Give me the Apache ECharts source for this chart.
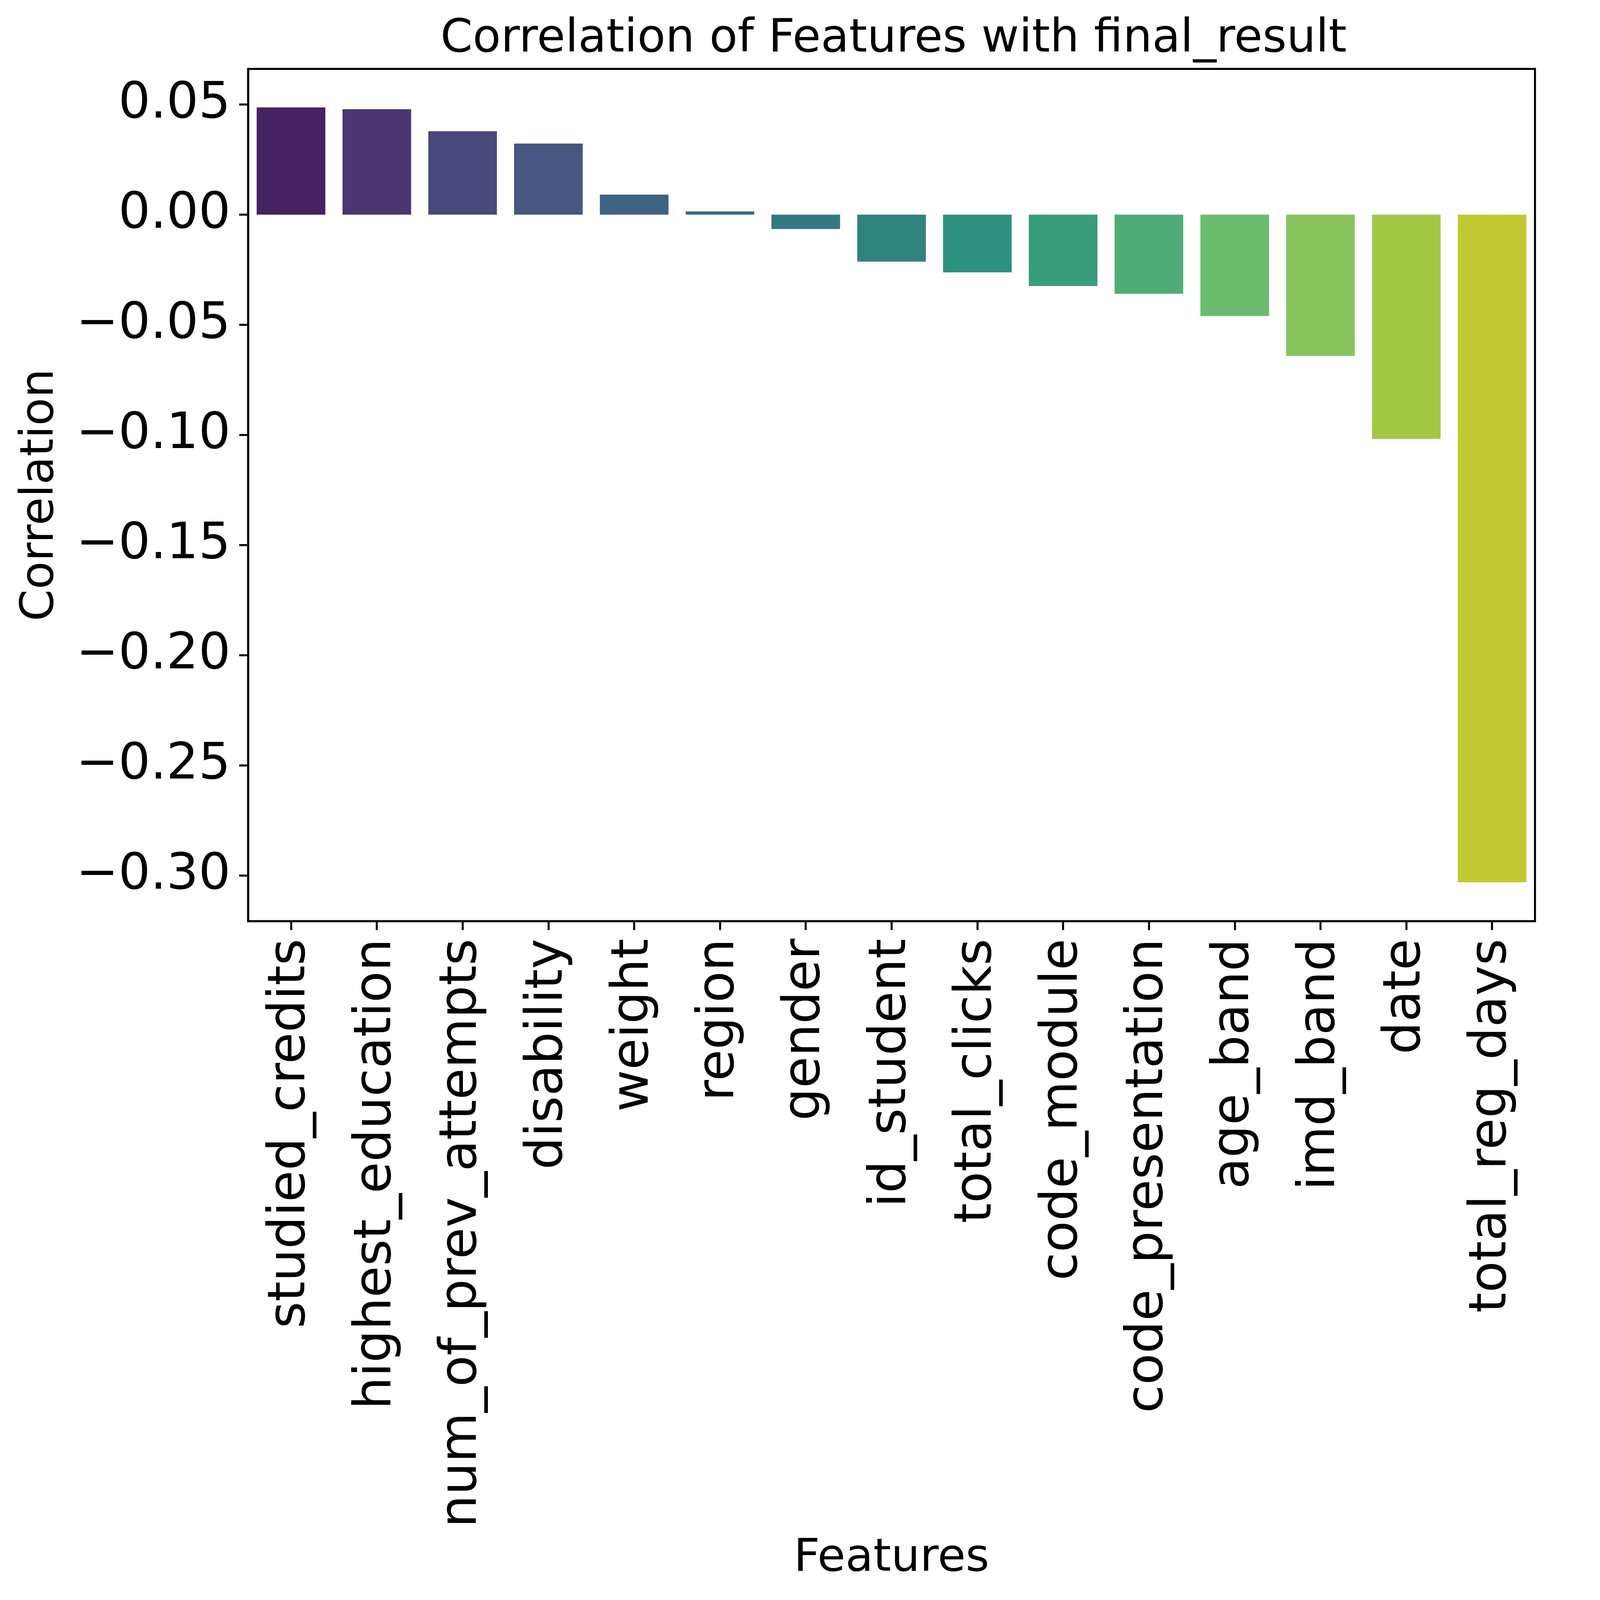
<!DOCTYPE html>
<html>
<head>
<meta charset="utf-8">
<script src="https://cdn.jsdelivr.net/npm/echarts@6/dist/echarts.min.js"></script>
<style>
html,body{margin:0;padding:0;background:#fff;overflow:hidden;}
#chart{position:absolute;left:0;top:0;}
</style>
</head>
<body>
<div id="chart"></div>
<script>
// ---- data ----
const categories = ['studied_credits','highest_education','num_of_prev_attempts','disability','weight','region','gender','id_student','total_clicks','code_module','code_presentation','age_band','imd_band','date','total_reg_days'];
const correlations = [0.0487, 0.0479, 0.0379, 0.0323, 0.0091, 0.0015, -0.0065, -0.0213, -0.0262, -0.0324, -0.0359, -0.0460, -0.0641, -0.1018, -0.3031];
const yTicks = [-0.30, -0.25, -0.20, -0.15, -0.10, -0.05, 0.00, 0.05];
const titleText = 'Correlation of Features with final_result';
const xName = 'Features';
const yName = 'Correlation';

// ---- style helpers ----
const viridis15 = ['#48186a','#472d7b','#424086','#3b528b','#33638d','#2c728e','#26828e','#21918c','#1fa088','#28ae80','#3fbc73','#5ec962','#84d44b','#addc30','#d8e219'];
function desaturate(hex, prop){
  let r=parseInt(hex.slice(1,3),16)/255, g=parseInt(hex.slice(3,5),16)/255, b=parseInt(hex.slice(5,7),16)/255;
  const mx=Math.max(r,g,b), mn=Math.min(r,g,b);
  let h=0,s=0; const l=(mx+mn)/2;
  if(mx!==mn){
    const d=mx-mn;
    s = l>0.5 ? d/(2-mx-mn) : d/(mx+mn);
    if(mx===r) h=((g-b)/d+(g<b?6:0))/6;
    else if(mx===g) h=((b-r)/d+2)/6;
    else h=((r-g)/d+4)/6;
  }
  s*=prop;
  function hue2rgb(p,q,t){ if(t<0)t+=1; if(t>1)t-=1; if(t<1/6)return p+(q-p)*6*t; if(t<1/2)return q; if(t<2/3)return p+(q-p)*(2/3-t)*6; return p; }
  let R,G,B;
  if(s===0){R=G=B=l;} else {
    const q=l<0.5?l*(1+s):l+s-l*s, p=2*l-q;
    R=hue2rgb(p,q,h+1/3); G=hue2rgb(p,q,h); B=hue2rgb(p,q,h-1/3);
  }
  const toHex=v=>Math.round(v*255).toString(16).padStart(2,'0');
  return '#'+toHex(R)+toHex(G)+toHex(B);
}
const barColors = viridis15.map(c=>desaturate(c,0.75));

// scale reference pixels to the actual CSS viewport
const REF_W = 5052, REF_H = 5204;
const S = Math.min(window.innerWidth / REF_W, window.innerHeight / REF_H);
const px = v => v * S;

const el = document.getElementById('chart');
el.style.width = px(REF_W) + 'px';
el.style.height = px(REF_H) + 'px';

const FONT = 'DejaVu Sans';
const LW = px(6.6);
const PL = 807, PR = 4993, PT = 224, PB = 2996;

const chart = echarts.init(el, null, {renderer:'canvas'});
chart.setOption({
  backgroundColor:'#ffffff',
  animation:false,
  title:{
    text: titleText,
    left: px((PL + PR)/2),
    textAlign:'center',
    top: px(48),
    textStyle:{fontFamily:FONT, fontSize:px(150), fontWeight:'normal', color:'#000'}
  },
  grid:{left:px(PL), right:px(REF_W-PR), top:px(PT), bottom:px(REF_H-PB), show:true, borderColor:'#000', borderWidth:LW, backgroundColor:'transparent'},
  xAxis:{
    type:'category',
    data: categories,
    boundaryGap:true,
    name: xName,
    nameLocation:'middle',
    nameGap: px(2000),
    nameTextStyle:{fontFamily:FONT, fontSize:px(148), color:'#000'},
    axisLine:{show:true, onZero:false, lineStyle:{color:'#000', width:LW}},
    axisTick:{show:true, alignWithLabel:true, length:px(29), lineStyle:{color:'#000', width:LW}},
    axisLabel:{show:true, rotate:90, margin:px(57), interval:0, fontFamily:FONT, fontSize:px(167), color:'#000'},
    splitLine:{show:false}
  },
  yAxis:{
    type:'value',
    min:-0.3207,
    max:0.0662,
    name: yName,
    nameLocation:'middle',
    nameRotate:90,
    nameGap: px(600),
    nameTextStyle:{fontFamily:FONT, fontSize:px(149), color:'#000'},
    axisLine:{show:true, lineStyle:{color:'#000', width:LW}},
    axisTick:{show:true, length:px(29), customValues:yTicks, lineStyle:{color:'#000', width:LW}},
    axisLabel:{show:true, margin:px(57), customValues:yTicks, fontFamily:FONT, fontSize:px(164), color:'#000',
      formatter: v => (v < -1e-9 ? '\u2212' : '') + Math.abs(v).toFixed(2)},
    splitLine:{show:false}
  },
  series:[{
    type:'bar',
    data: correlations,
    barCategoryGap:'20%',
    itemStyle:{color: p => barColors[p.dataIndex]}
  }]
});
</script>
</body>
</html>
